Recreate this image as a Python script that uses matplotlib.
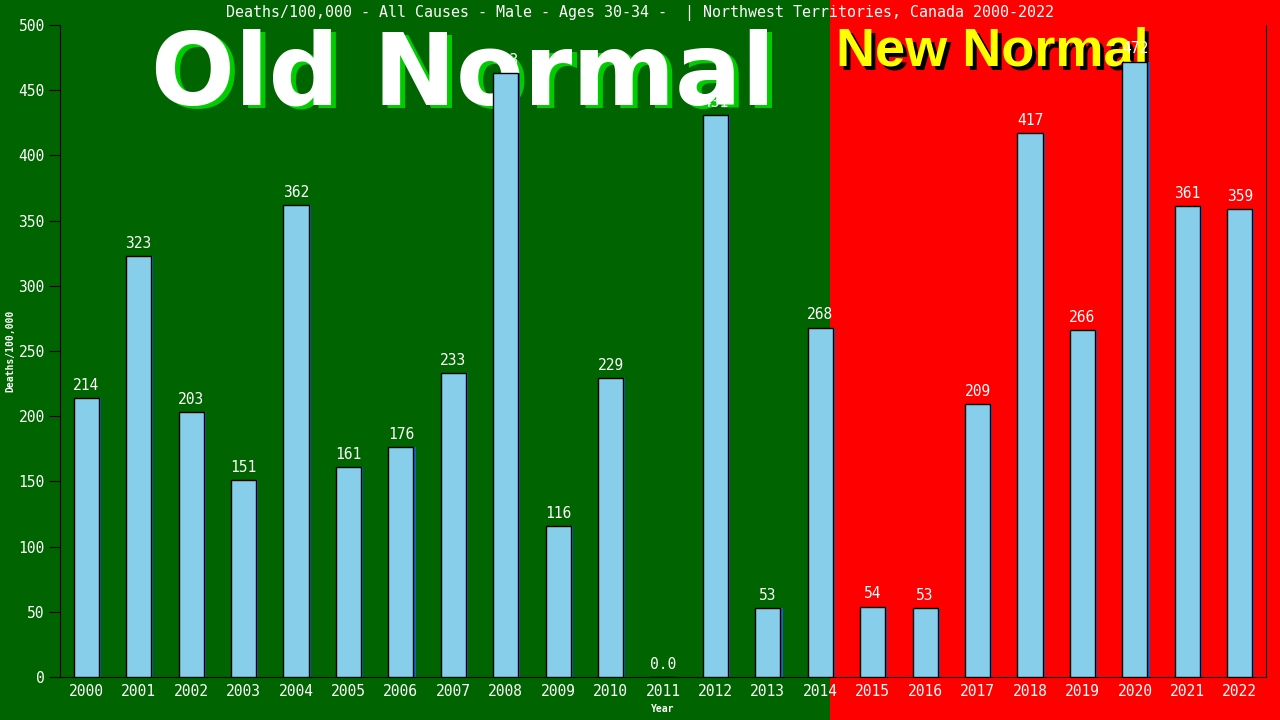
import numpy as np
import matplotlib
matplotlib.use('Agg')
from matplotlib import pyplot as plt
from matplotlib.patches import Rectangle
from matplotlib.transforms import offset_copy

years = [str(y) for y in range(2000, 2023)]
deaths = [214, 323, 203, 151, 362, 161, 176, 233, 463, 116, 229, 0.0,
          431, 53, 268, 54, 53, 209, 417, 266, 472, 361, 359]
labels = ['214', '323', '203', '151', '362', '161', '176', '233', '463', '116',
          '229', '0.0', '431', '53', '268', '54', '53', '209', '417', '266',
          '472', '361', '359']
yticks = [0, 50, 100, 150, 200, 250, 300, 350, 400, 450, 500]

title = 'Deaths/100,000 - All Causes - Male - Ages 30-34 -  | Northwest Territories, Canada 2000-2022'
mono = 'DejaVu Sans Mono'

fig = plt.figure(figsize=(12.8, 7.2), dpi=100)
split = 830 / 1280
fig.patches.append(Rectangle((0, 0), split, 1, transform=fig.transFigure,
                             facecolor='#006400', edgecolor='none', zorder=-10))
fig.patches.append(Rectangle((split, 0), 1 - split, 1, transform=fig.transFigure,
                             facecolor='#ff0000', edgecolor='none', zorder=-10))

ax = fig.add_axes([60 / 1280, 1 - 677 / 720, 1206 / 1280, 652 / 720])
ax.set_facecolor('none')

x = np.arange(len(years))
# thin blue shade on the right of each bar
ax.bar(x + 0.03, deaths, width=0.5, color='#1f5fbf', edgecolor='none', zorder=2)
ax.bar(x, deaths, width=0.48, color='#87ceeb', edgecolor='black',
       linewidth=1, zorder=3)
for xi, v, lab in zip(x, deaths, labels):
    ax.text(xi, v + 4, lab, ha='center', va='bottom', color='white',
            fontsize=10.5, family=mono, zorder=4)

ax.set_xlim(-0.5, 22.5)
ax.set_ylim(0, 500)
ax.set_xticks(x)
ax.set_xticklabels(years, family=mono, fontsize=10.5, color='white')
ax.set_yticks(yticks)
ax.set_yticklabels([str(t) for t in yticks], family=mono, fontsize=10.5, color='white')
ax.tick_params(axis='x', length=0, pad=5)
ax.tick_params(axis='y', length=8, color='black', pad=3)
ax.spines['top'].set_visible(False)
for s in ['left', 'bottom', 'right']:
    ax.spines[s].set_color('black')
ax.set_ylabel('Deaths/100,000', family=mono, fontsize=7, fontweight='bold',
              color='white', labelpad=2)
ax.set_xlabel('Year', family=mono, fontsize=7, fontweight='bold',
              color='white', labelpad=4)

fig.text(0.5, 1 - 13 / 720, title, ha='center', va='center', color='white',
         family=mono, fontsize=10.8)

# big overlay texts, behind the bars
tr = fig.transFigure
ax.text(463 / 1280, 1 - 77 / 720, 'Old Normal', transform=offset_copy(tr, fig=fig, x=5, y=-3, units='dots'),
        ha='center', va='center', color='#00cc00', fontsize=71, fontweight='bold',
        family='DejaVu Sans', clip_on=False, zorder=1)
ax.text(463 / 1280, 1 - 77 / 720, 'Old Normal', transform=tr,
        ha='center', va='center', color='white', fontsize=71, fontweight='bold',
        family='DejaVu Sans', clip_on=False, zorder=1)
ax.text(992 / 1280, 1 - 52 / 720, 'New Normal', transform=offset_copy(tr, fig=fig, x=4, y=-4, units='dots'),
        ha='center', va='center', color='black', fontsize=39, fontweight='bold',
        family='Liberation Sans', clip_on=False, zorder=1)
ax.text(992 / 1280, 1 - 52 / 720, 'New Normal', transform=tr,
        ha='center', va='center', color='#ffff00', fontsize=39, fontweight='bold',
        family='Liberation Sans', clip_on=False, zorder=1)

fig.savefig('out.png', dpi=100)
